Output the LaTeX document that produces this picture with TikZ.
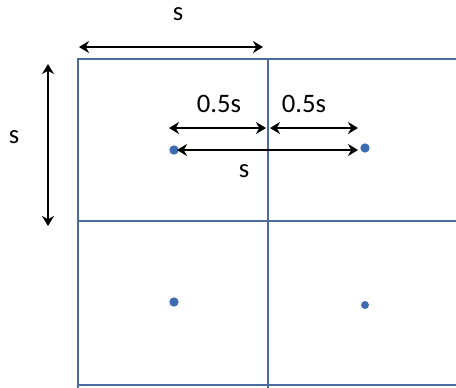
\documentclass[tikz,border=0pt]{standalone}
\usepackage{fontspec}
\setmainfont{Carlito}
\usetikzlibrary{arrows.meta}
\usetikzlibrary{positioning}
\definecolor{gridblue}{RGB}{74,108,158}
\definecolor{dotblue}{RGB}{62,108,178}
\tikzset{
  gridline/.style = {draw=gridblue, line width=1.7pt},
  dimarrow/.style = {black, line width=2.1pt, {Stealth[length=7.5pt,width=9pt]}-{Stealth[length=7.5pt,width=9pt]}},
  centre/.style = {circle, fill=dotblue, inner sep=0pt, minimum size=7pt},
  dimlabel/.style = {font=\fontsize{20}{24}\selectfont, inner sep=0pt}
}

\begin{document}
\begin{tikzpicture}[x=0.75pt, y=-0.75pt]
      \useasboundingbox (0,0) rectangle (456,387);
      \draw[gridline] (470,59) -- (78,59) -- (78,400);
      \draw[gridline] (268,59) -- (268,400);
      \draw[gridline] (78,221) -- (470,221);
      \draw[gridline] (78,385) -- (470,385);

      \node[centre] (c11) at (174,150) {};
      \node[centre] (c12) at (365,148) {};
      \node[centre] (c21) at (174,302) {};
      \node[centre, minimum size=6pt] (c22) at (365,305) {};

      \coordinate (topL) at (79,47);
      \coordinate (topR) at (263,47);
      \coordinate (sideT) at (48,64);
      \coordinate (sideB) at (48,226);
      \coordinate (halfL) at (169,128);
      \coordinate (halfM) at (266,128);
      \coordinate (halfN) at (270,128);
      \coordinate (halfR) at (358,128);
      \coordinate (fullL) at (177,150);
      \coordinate (fullR) at (358,150);

      \draw[dimarrow] (topL) -- (topR);
      \draw[dimarrow] (sideT) -- (sideB);
      \draw[dimarrow] (halfL) -- (halfM);
      \draw[dimarrow] (halfN) -- (halfR);
      \draw[dimarrow] (fullL) -- (fullR);

      \node[dimlabel] (ltop) at (178,14) {s};
      \node[dimlabel] (lside) at (14,137) {s};
      \node[dimlabel] (lhalfL) at (219,104) {0.5s};
      \node[dimlabel] (lhalfR) at (304,104) {0.5s};
      \node[dimlabel] (lfull) at (244,171) {s};
    \end{tikzpicture}
\end{document}
